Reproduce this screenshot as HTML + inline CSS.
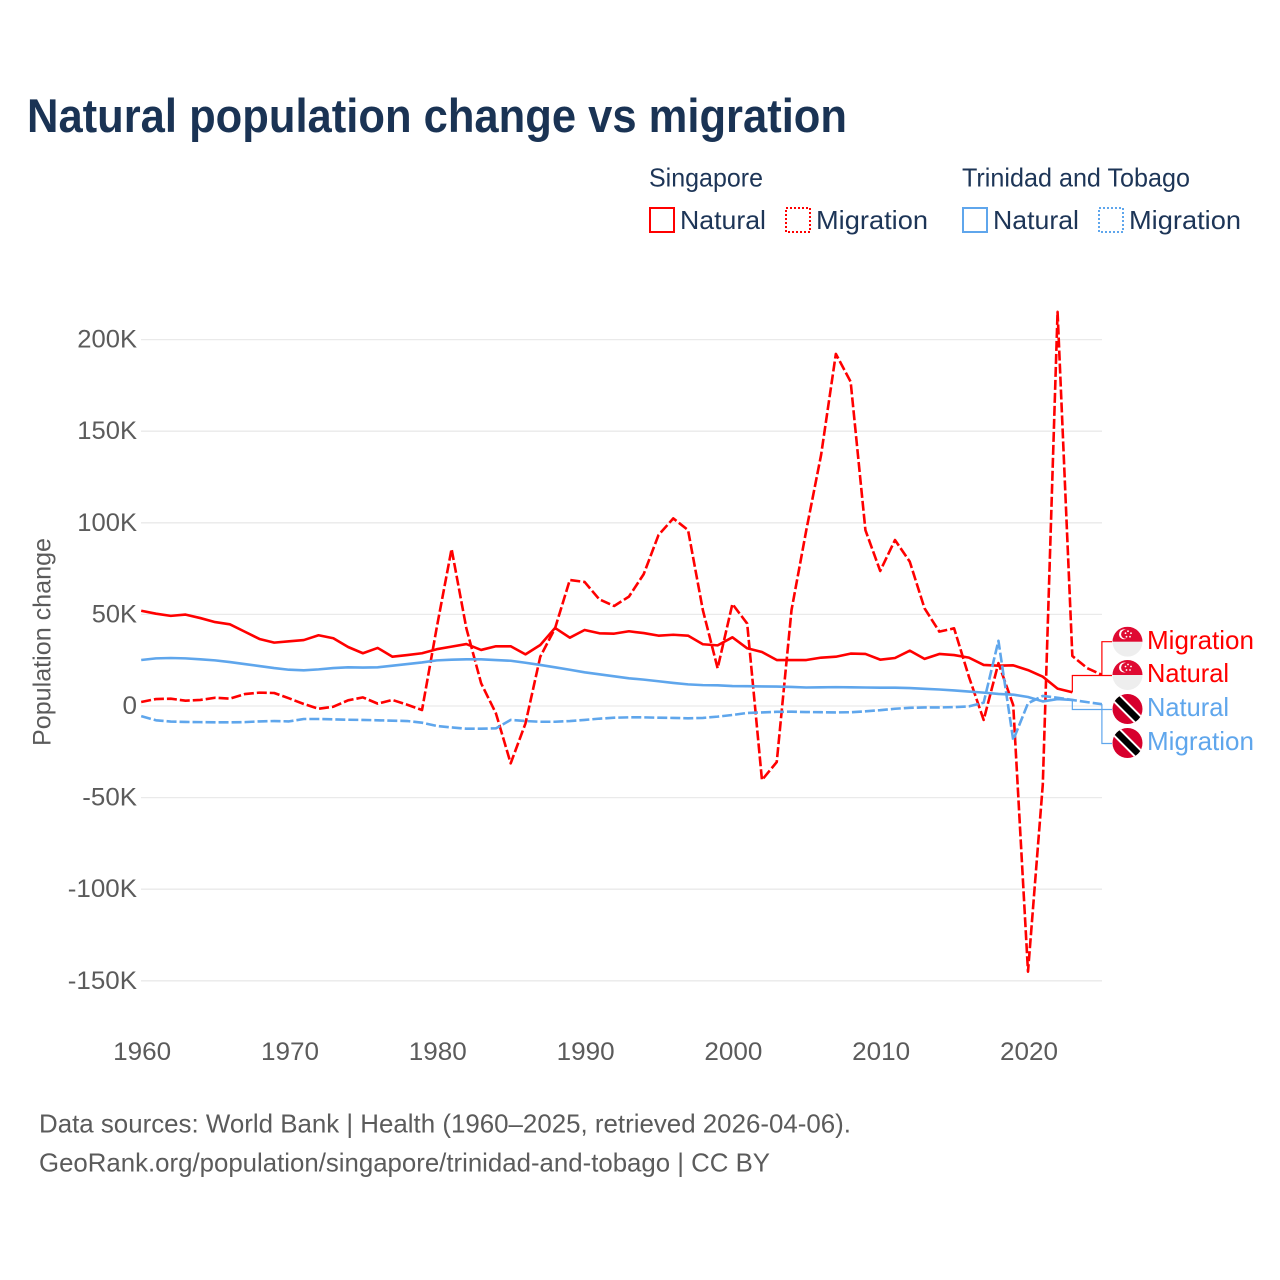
<!DOCTYPE html>
<html lang="en">
<head>
<meta charset="utf-8">
<title>Natural population change vs migration</title>
<style>
html,body{margin:0;padding:0;background:#fff;}
svg{display:block;}
text{font-family:"Liberation Sans",sans-serif;}
</style>
</head>
<body>
<svg id="chart" xmlns="http://www.w3.org/2000/svg" width="1280" height="1280" viewBox="0 0 1280 1280">
  <rect x="0" y="0" width="1280" height="1280" fill="#ffffff"/>
  <text x="27" y="132" font-size="47" font-weight="700" fill="#1a3354" textLength="820" lengthAdjust="spacingAndGlyphs">Natural population change vs migration</text>

  <g font-size="26" fill="#1d3557">
    <text x="649" y="186.5" textLength="114" lengthAdjust="spacingAndGlyphs">Singapore</text>
    <text x="962" y="186.5" textLength="228" lengthAdjust="spacingAndGlyphs">Trinidad and Tobago</text>
    <rect x="650" y="208" width="24" height="24" fill="none" stroke="#ff0000" stroke-width="2"/>
    <text x="680" y="229" textLength="86" lengthAdjust="spacingAndGlyphs">Natural</text>
    <rect x="786" y="208" width="24" height="24" fill="none" stroke="#ff0000" stroke-width="2" stroke-dasharray="2 2"/>
    <text x="816" y="229" textLength="112" lengthAdjust="spacingAndGlyphs">Migration</text>
    <rect x="963" y="208" width="24" height="24" fill="none" stroke="#5fa6ec" stroke-width="2"/>
    <text x="993" y="229" textLength="86" lengthAdjust="spacingAndGlyphs">Natural</text>
    <rect x="1099" y="208" width="24" height="24" fill="none" stroke="#5fa6ec" stroke-width="2" stroke-dasharray="2 2"/>
    <text x="1129" y="229" textLength="112" lengthAdjust="spacingAndGlyphs">Migration</text>
  </g>

  <text transform="translate(50.5,642) rotate(-90)" text-anchor="middle" font-size="25" fill="#5b5b5b" textLength="208" lengthAdjust="spacingAndGlyphs">Population change</text>

  <g id="grid"></g>
  <g id="yaxis"></g>
  <g id="xaxis"></g>
  <g id="connectors"></g>
  <g id="series"></g>

  <defs>
    <clipPath id="flag-clip"><circle cx="0" cy="0" r="15"/></clipPath>
  </defs>

  <g font-size="26">
    <g transform="translate(1127.5,641.7)" clip-path="url(#flag-clip)">
      <rect x="-15" y="-15" width="30" height="30" fill="#eeeeee"/>
      <rect x="-15" y="-15" width="30" height="15" fill="#df0a32"/>
      <circle cx="-3.5" cy="-7.5" r="5" fill="#ffffff"/>
      <circle cx="-1.8" cy="-7.5" r="4.6" fill="#df0a32"/>
      <circle cx="0.5" cy="-10.5" r="0.9" fill="#fff"/><circle cx="3.5" cy="-8.5" r="0.9" fill="#fff"/><circle cx="2.5" cy="-5" r="0.9" fill="#fff"/><circle cx="-1" cy="-5" r="0.9" fill="#fff"/><circle cx="-2" cy="-8.5" r="0.9" fill="#fff"/>
    </g>
    <g transform="translate(1127.5,675)" clip-path="url(#flag-clip)">
      <rect x="-15" y="-15" width="30" height="30" fill="#eeeeee"/>
      <rect x="-15" y="-15" width="30" height="15" fill="#df0a32"/>
      <circle cx="-3.5" cy="-7.5" r="5" fill="#ffffff"/>
      <circle cx="-1.8" cy="-7.5" r="4.6" fill="#df0a32"/>
      <circle cx="0.5" cy="-10.5" r="0.9" fill="#fff"/><circle cx="3.5" cy="-8.5" r="0.9" fill="#fff"/><circle cx="2.5" cy="-5" r="0.9" fill="#fff"/><circle cx="-1" cy="-5" r="0.9" fill="#fff"/><circle cx="-2" cy="-8.5" r="0.9" fill="#fff"/>
    </g>
    <g transform="translate(1127.5,709)" clip-path="url(#flag-clip)">
      <rect x="-15" y="-15" width="30" height="30" fill="#d7002d"/>
      <line x1="-15" y1="-15" x2="15" y2="15" stroke="#ffffff" stroke-width="10.5"/>
      <line x1="-15" y1="-15" x2="15" y2="15" stroke="#000000" stroke-width="6.5"/>
    </g>
    <g transform="translate(1127.5,743)" clip-path="url(#flag-clip)">
      <rect x="-15" y="-15" width="30" height="30" fill="#d7002d"/>
      <line x1="-15" y1="-15" x2="15" y2="15" stroke="#ffffff" stroke-width="10.5"/>
      <line x1="-15" y1="-15" x2="15" y2="15" stroke="#000000" stroke-width="6.5"/>
    </g>
    <text x="1147" y="649" fill="#ff0000" textLength="107" lengthAdjust="spacingAndGlyphs">Migration</text>
    <text x="1147" y="682" fill="#ff0000" textLength="82" lengthAdjust="spacingAndGlyphs">Natural</text>
    <text x="1147" y="716" fill="#5fa6ec" textLength="82" lengthAdjust="spacingAndGlyphs">Natural</text>
    <text x="1147" y="750" fill="#5fa6ec" textLength="107" lengthAdjust="spacingAndGlyphs">Migration</text>
  </g>

  <text x="39" y="1132.5" font-size="26" fill="#5b5b5b" textLength="812" lengthAdjust="spacingAndGlyphs">Data sources: World Bank | Health (1960–2025, retrieved 2026-04-06).</text>
  <text x="39" y="1171.5" font-size="26" fill="#5b5b5b" textLength="731" lengthAdjust="spacingAndGlyphs">GeoRank.org/population/singapore/trinidad-and-tobago | CC BY</text>
</svg>

<script>
// Chart data (values in thousands of people)
var firstYear = 1960;
var xTicks = [1960, 1970, 1980, 1990, 2000, 2010, 2020];
var yTicks = [200, 150, 100, 50, 0, -50, -100, -150];

var singaporeNatural = [52, 50.4, 49.2, 49.9, 48, 45.8, 44.6, 40.6, 36.6, 34.6,
  35.3, 36, 38.6, 37, 32.2, 28.8, 31.7, 26.9, 27.8, 28.8,
  31, 32.4, 33.8, 30.6, 32.6, 32.6, 28.2, 33.3, 42.6, 37.3,
  41.5, 39.7, 39.5, 40.8, 39.8, 38.4, 38.9, 38.4, 33.7, 33.1,
  37.5, 31.5, 29.5, 25.1, 25.1, 25.1, 26.4, 26.9, 28.6, 28.4,
  25.3, 26.2, 30.2, 25.7, 28.4, 27.8, 26.4, 22.4, 22, 22.2,
  19.6, 16, 9.5, 7.5];

var singaporeMigration = [2.2, 3.8, 4, 2.9, 3.3, 4.5, 4, 6.5, 7.3, 7.1,
  4.2, 1.1, -1.5, -0.4, 3.1, 4.7, 1.3, 3.3, 0.7, -2.2,
  43, 85.7, 42.4, 12.4, -4, -31.3, -9.5, 26.9, 42.4, 68.8,
  67.7, 58.2, 54.6, 59.7, 72, 93.3, 102.4, 96, 52.4, 20.6,
  55.7, 45, -40.4, -30.6, 52.4, 96, 137, 192.2, 177, 96,
  73.7, 90.6, 78.8, 53.3, 40.6, 42.4, 16, -7.6, 23.4, 0.5,
  -145, -43, 215.2, 27.3, 20.7, 17];

var trinidadNatural = [25.1, 26, 26.2, 26, 25.5, 24.9, 24, 22.9, 21.8, 20.7,
  19.8, 19.5, 20, 20.7, 21.1, 21, 21.1, 22, 22.9, 23.8,
  24.9, 25.3, 25.5, 25.5, 25.1, 24.7, 23.6, 22.4, 21.1, 19.8,
  18.4, 17.3, 16.2, 15.1, 14.4, 13.5, 12.6, 11.8, 11.4, 11.3,
  10.9, 10.8, 10.7, 10.6, 10.4, 10.1, 10.2, 10.3, 10.2, 10.1,
  10, 10, 9.8, 9.4, 9, 8.5, 7.9, 7.3, 6.6, 6.2,
  4.9, 2.5, 3.8, 3.3];

var trinidadMigration = [-5.5, -7.8, -8.5, -8.7, -8.8, -8.9, -8.9, -8.8, -8.4, -8.2,
  -8.4, -7.1, -7.1, -7.3, -7.5, -7.6, -7.8, -8, -8.2, -9.1,
  -10.9, -11.7, -12.4, -12.4, -12.2, -7.6, -8.2, -8.6, -8.6, -8.2,
  -7.6, -6.9, -6.4, -6.2, -6.2, -6.4, -6.5, -6.7, -6.5, -5.8,
  -4.9, -3.8, -3.5, -3.2, -3.1, -3.3, -3.4, -3.5, -3.4, -2.9,
  -2.3, -1.5, -1, -0.8, -0.8, -0.6, -0.2, 1.8, 35.6, -18.6,
  1.5, 5.5, 4.5, 3.3, 2.1, 1];

var SVG_NS = 'http://www.w3.org/2000/svg';
var RED = '#ff0000';
var BLUE = '#5fa6ec';

function xScale(year) { return 141.2 + (year - 1960) * 14.78; }
function yScale(v) { return 706 - v * 1.832; }

function make(parent, tag, attrs, content) {
  var el = document.createElementNS(SVG_NS, tag);
  for (var k in attrs) { el.setAttribute(k, attrs[k]); }
  if (content !== undefined) { el.textContent = content; }
  parent.appendChild(el);
  return el;
}

function labelWidth(s) {
  var w = 0;
  for (var i = 0; i < s.length; i++) {
    var c = s.charAt(i);
    w += c === 'K' ? 16.2 : (c === '-' ? 9.5 : 14.5);
  }
  return w;
}

function yLabel(v) { return v === 0 ? '0' : v + 'K'; }

var gridG = document.getElementById('grid');
var yAxisG = document.getElementById('yaxis');
yTicks.forEach(function (v) {
  var line = make(gridG, 'line', { x1: 141, x2: 1102, y1: yScale(v), y2: yScale(v), stroke: '#eaeaea', 'stroke-width': 1.3 });
  
  
  var s = yLabel(v);
  var t = make(yAxisG, 'text', { x: 137, y: yScale(v) + 8, 'text-anchor': 'end', 'font-size': 25, fill: '#5b5b5b', textLength: labelWidth(s), lengthAdjust: 'spacingAndGlyphs' }, s);
  
  
});

var xAxisG = document.getElementById('xaxis');
xTicks.forEach(function (year) {
  var t = make(xAxisG, 'text', { x: xScale(year) + 1, y: 1060, 'text-anchor': 'middle', 'font-size': 25, fill: '#5b5b5b', textLength: 58, lengthAdjust: 'spacingAndGlyphs' }, String(year));
  
  
});

function linePath(values) {
  return values.map(function (v, i) {
    return (i ? 'L' : 'M') + xScale(firstYear + i).toFixed(2) + ' ' + yScale(v).toFixed(2);
  }).join(' ');
}

var seriesG = document.getElementById('series');
var sgNatLine = make(seriesG, 'path', { d: linePath(singaporeNatural), fill: 'none', stroke: RED, 'stroke-width': 2.6, 'stroke-linejoin': 'round' });


var sgMigLine = make(seriesG, 'path', { d: linePath(singaporeMigration), fill: 'none', stroke: RED, 'stroke-width': 2.6, 'stroke-linejoin': 'round', 'stroke-dasharray': '10 3' });


var ttNatLine = make(seriesG, 'path', { d: linePath(trinidadNatural), fill: 'none', stroke: BLUE, 'stroke-width': 2.6, 'stroke-linejoin': 'round' });


var ttMigLine = make(seriesG, 'path', { d: linePath(trinidadMigration), fill: 'none', stroke: BLUE, 'stroke-width': 2.6, 'stroke-linejoin': 'round', 'stroke-dasharray': '10 3' });



function connectorPath(values, labelY) {
  var i = values.length - 1;
  return 'M' + xScale(firstYear + i).toFixed(2) + ' ' + yScale(values[i]).toFixed(2) + ' V' + labelY + ' H1112';
}

var connG = document.getElementById('connectors');
var c1 = make(connG, 'path', { d: connectorPath(singaporeMigration, 641.7), fill: 'none', stroke: RED, 'stroke-width': 1.2 });


var c2 = make(connG, 'path', { d: connectorPath(singaporeNatural, 675.5), fill: 'none', stroke: RED, 'stroke-width': 1.2 });


var c3 = make(connG, 'path', { d: connectorPath(trinidadNatural, 709.5), fill: 'none', stroke: BLUE, 'stroke-width': 1.2 });


var c4 = make(connG, 'path', { d: connectorPath(trinidadMigration, 743.5), fill: 'none', stroke: BLUE, 'stroke-width': 1.2 });


</script>
</body>
</html>
